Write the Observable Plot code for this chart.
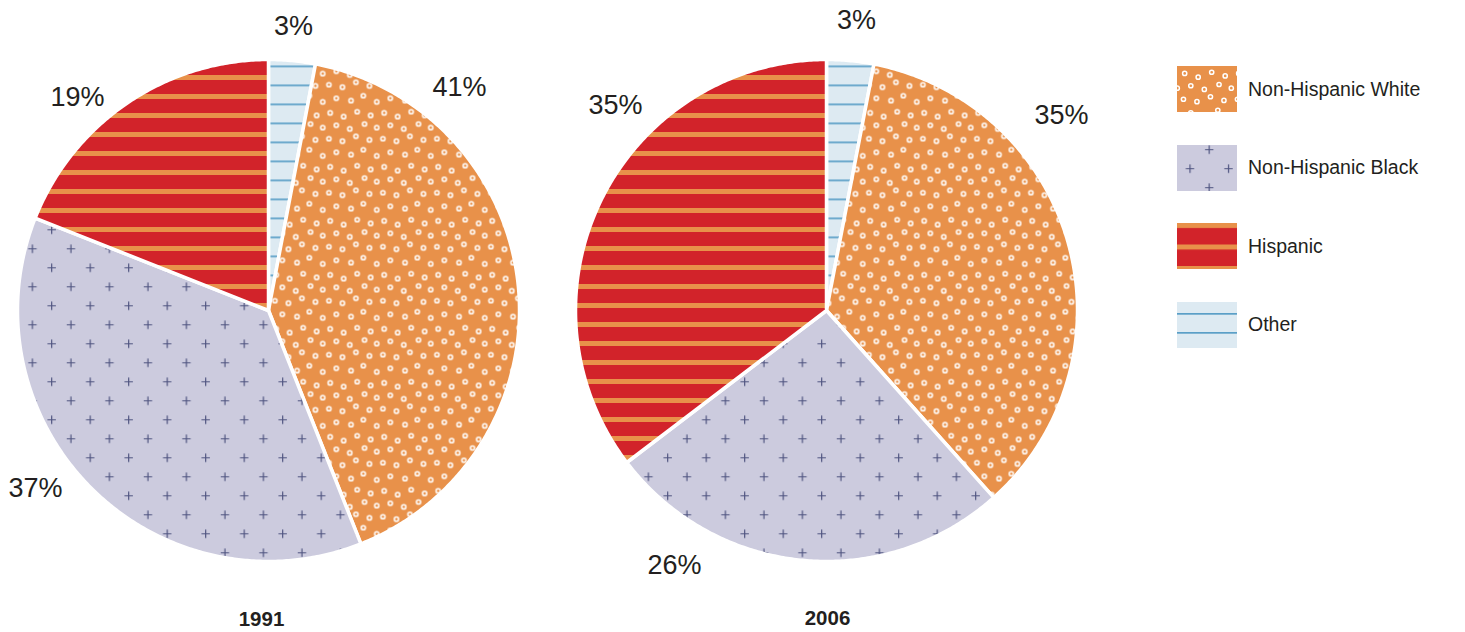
<!DOCTYPE html>
<html><head><meta charset="utf-8">
<script src="https://cdn.jsdelivr.net/npm/d3@7"></script>
<script src="https://cdn.jsdelivr.net/npm/@observablehq/plot@0.6"></script>
<style>
body{margin:0;background:#fff;font-family:"Liberation Sans",Arial,Helvetica,sans-serif;}
#wrap{position:relative;width:1465px;height:632px;overflow:hidden;}
#legend{position:absolute;left:1177px;top:66px;}
.item{display:flex;align-items:center;height:46px;margin-bottom:32.6px;}
.item svg{width:60px;height:46px;display:block;flex:none}
.item span{margin-left:11px;font-size:19.5px;color:#231f20;white-space:nowrap}
#defs{position:absolute;width:0;height:0;}
</style></head><body>
<svg id="defs" width="0" height="0"><defs></defs></svg>
<div id="wrap"><div id="chart"></div><div id="legend"></div></div>
<script>
// ---- data ----
const categories = ["Other", "Non-Hispanic White", "Non-Hispanic Black", "Hispanic"];
const years = ["1991", "2006"];
const values1991 = [3, 41, 37, 19];
const values2006 = [3, 35, 26, 35];
const legendOrder = ["Non-Hispanic White", "Non-Hispanic Black", "Hispanic", "Other"];

// ---- layout (not data) ----
const W = 1465, H = 632;
const pieCenters = [[268, 310], [826, 310]];
const pieRadius = 251;
// label centre offsets relative to pie centre, in category order
const labelOffsets = [
  [[25, -284], [191, -223], [-233, 178], [-191, -213]],
  [[30, -290], [235, -195], [-152, 255], [-211, -205]]
];
const yearLabelPos = [[261, 619], [827, 618]];

// ---- patterns ----
const defs = d3.select("#defs defs");
function stripePattern(id, bg, fg, period, band, yOff) {
  const p = defs.append("pattern").attr("id", id).attr("patternUnits", "userSpaceOnUse")
    .attr("width", 40).attr("height", period).attr("y", yOff);
  p.append("rect").attr("width", 40).attr("height", period).attr("fill", bg);
  p.append("rect").attr("width", 40).attr("height", band).attr("fill", fg);
}
stripePattern("pHisp", "#D2232A", "#E8914A", 19, 5, 17.5);
stripePattern("pHispL", "#D2232A", "#E8914A", 21.5, 5, 0);
stripePattern("pOther", "#DDEAF2", "#5A9FC7", 19, 1.7, 8);
stripePattern("pOtherL", "#DDEAF2", "#5A9FC7", 19, 1.7, 11);

function plusPattern(id, xOff, yOff) {
  const p = defs.append("pattern").attr("id", id).attr("patternUnits", "userSpaceOnUse")
    .attr("width", 38.5).attr("height", 38).attr("x", xOff).attr("y", yOff);
  p.append("rect").attr("width", 38.5).attr("height", 38).attr("fill", "#CCCBDE");
  p.append("path").attr("d", "M5.3,9.5h8.4M9.5,5.3v8.4M24.55,28.5h8.4M28.75,24.3v8.4")
    .attr("stroke", "#4F5480").attr("stroke-width", 1.2).attr("fill", "none");
}
plusPattern("pBlack", 3.2, -8.2);
plusPattern("pBlackL", 3.5, 14.2);

function ringPattern(id, xOff, yOff) {
  const T = 54, s = T / 44;
  const pts = [[3,2],[14,5],[25,1],[36,4],[8,12],[19,15],[31,11],[41,14],
               [2,23],[13,25],[24,21],[35,24],[8,34],[20,36],[30,32],[41,37]];
  const p = defs.append("pattern").attr("id", id).attr("patternUnits", "userSpaceOnUse")
    .attr("width", T).attr("height", T).attr("x", xOff).attr("y", yOff);
  p.append("rect").attr("width", T).attr("height", T).attr("fill", "#E8914A");
  for (const [x, y] of pts) {
    for (const dx of [-T, 0, T]) for (const dy of [-T, 0, T]) {
      p.append("circle").attr("cx", x * s + 2 + dx).attr("cy", y * s + 2 + dy).attr("r", 2.1)
        .attr("fill", "none").attr("stroke", "#fff").attr("stroke-width", 1.5);
    }
  }
}
ringPattern("pWhite", 0, 0);
ringPattern("pWhiteL", 2, 3);

const fills = {"Other": "url(#pOther)", "Non-Hispanic White": "url(#pWhite)",
               "Non-Hispanic Black": "url(#pBlack)", "Hispanic": "url(#pHisp)"};
const legendFills = {"Other": "url(#pOtherL)", "Non-Hispanic White": "url(#pWhiteL)",
               "Non-Hispanic Black": "url(#pBlackL)", "Hispanic": "url(#pHispL)"};

// ---- build slices from data ----
const allValues = [values1991, values2006];
const slicePts = [];
const labels = [];
allValues.forEach((vals, pi) => {
  const [cx, cy] = pieCenters[pi];
  const arcs = d3.pie().sort(null).value(d => d)(vals);
  arcs.forEach((a, i) => {
    const key = years[pi] + "|" + categories[i];
    const cat = categories[i];
    slicePts.push({key, cat, x: cx, y: cy});
    const n = Math.max(3, Math.ceil((a.endAngle - a.startAngle) / (Math.PI / 360)));
    for (let k = 0; k <= n; k++) {
      const t = a.startAngle + (a.endAngle - a.startAngle) * k / n;
      slicePts.push({key, cat, x: cx + pieRadius * Math.sin(t), y: cy - pieRadius * Math.cos(t)});
    }
    const [ox, oy] = labelOffsets[pi][i];
    labels.push({text: vals[i] + "%", x: cx + ox, y: cy + oy});
  });
});
const yearLabels = years.map((y, i) => ({text: y, x: yearLabelPos[i][0], y: yearLabelPos[i][1]}));

const chart = Plot.plot({
  width: W, height: H,
  margin: 0,
  x: {domain: [0, W], range: [0, W], axis: null},
  y: {domain: [0, H], range: [0, H], axis: null},
  color: {type: "identity"},
  style: {background: "transparent"},
  marks: [
    Plot.line(slicePts, {x: "x", y: "y", z: "key", fill: d => fills[d.cat], stroke: "white",
      strokeWidth: 3.5, strokeLinejoin: "round", curve: "linear-closed"}),
    Plot.text(labels, {x: "x", y: "y", text: "text", fontSize: 27, fill: "#231f20",
      fontFamily: "Liberation Sans, Arial, sans-serif"}),
    Plot.text(yearLabels, {x: "x", y: "y", text: "text", fontSize: 20.5, fontWeight: "bold",
      fill: "#231f20", fontFamily: "Liberation Sans, Arial, sans-serif"})
  ]
});
document.getElementById("chart").appendChild(chart);

// ---- legend ----
const legend = d3.select("#legend");
legendOrder.forEach(cat => {
  const item = legend.append("div").attr("class", "item");
  const svg = item.append("svg").attr("width", 60).attr("height", 46);
  svg.append("rect").attr("width", 60).attr("height", 46).attr("fill", legendFills[cat]);
  item.append("span").text(cat);
});
</script>
</body></html>
